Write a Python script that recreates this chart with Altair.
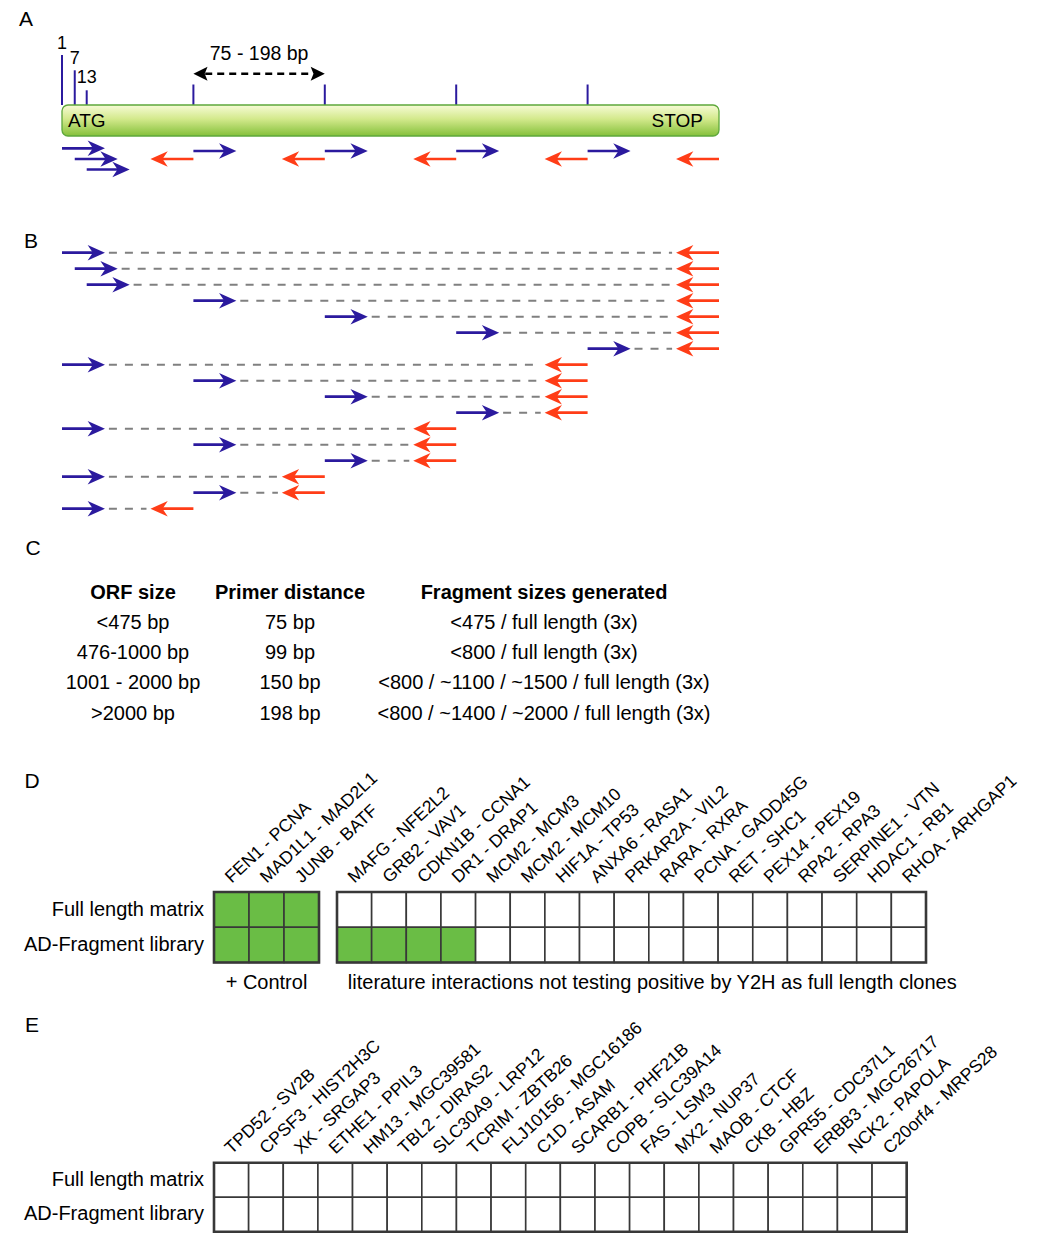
import altair as alt
import pandas as pd

# ======================= DATA =======================
# Panels A/B: positions along the ORF in units of one primer distance (ATG = 0, STOP = 5)
ORF_START, ORF_END = 0, 5
site_pos = [0, 0.097, 0.188, 1, 2, 3, 4]
site_label = ["1", "7", "13"]
site_lane = ["top1", "top7", "top13", "tick", "tick", "tick", "tick"]
label_lane = ["lab1", "lab7", "lab13"]
fwd_a_start = [0, 0.097, 0.188, 1, 2, 3, 4]
fwd_a_lane = ["row1", "row2", "row3", "fwd", "fwd", "fwd", "fwd"]
rev_a_end = [1, 2, 3, 4, 5]
rev_a_lane = ["row2", "row2", "row2", "row2", "row2"]
dim_from, dim_to, dim_text = 1, 2, "75 - 198 bp"
orf_text = ["ATG", "STOP"]

b_fwd_start = [0, 0.097, 0.188, 1, 2, 3, 4, 0, 1, 2, 3, 0, 1, 2, 0, 1, 0]
b_rev_end = [5, 5, 5, 5, 5, 5, 5, 4, 4, 4, 4, 3, 3, 3, 2, 2, 1]

# Panel C table
c_headers = ["ORF size", "Primer distance", "Fragment sizes generated"]
c_orf = ["<475 bp", "476-1000 bp", "1001 - 2000 bp", ">2000 bp"]
c_primer = ["75 bp", "99 bp", "150 bp", "198 bp"]
c_frag = ["<475 / full length (3x)", "<800 / full length (3x)",
          "<800 / ~1100 / ~1500 / full length (3x)",
          "<800 / ~1400 / ~2000 / full length (3x)"]

# Panel D/E grids
row_names = ["Full length matrix", "AD-Fragment library"]
d_control = ["FEN1 - PCNA", "MAD1L1 - MAD2L1", "JUNB - BATF"]
d_lit = ["MAFG - NFE2L2", "GRB2 - VAV1", "CDKN1B - CCNA1", "DR1 - DRAP1",
         "MCM2 - MCM3", "MCM2 - MCM10", "HIF1A - TP53", "ANXA6 - RASA1",
         "PRKAR2A - VIL2", "RARA - RXRA", "PCNA - GADD45G", "RET - SHC1",
         "PEX14 - PEX19", "RPA2 - RPA3", "SERPINE1 - VTN", "HDAC1 - RB1",
         "RHOA - ARHGAP1"]
d_full = [1, 1, 1, 0, 0, 0, 0, 0, 0, 0, 0, 0, 0, 0, 0, 0, 0, 0, 0, 0]
d_frag = [1, 1, 1, 1, 1, 1, 1, 0, 0, 0, 0, 0, 0, 0, 0, 0, 0, 0, 0, 0]
d_captions = ["+ Control", "literature interactions not testing positive by Y2H as full length clones"]

e_pairs = ["TPD52 - SV2B", "CPSF3 - HIST2H3C", "XK - SRGAP3", "ETHE1 - PPIL3",
           "HM13 - MGC39581", "TBL2 - DIRAS2", "SLC30A9 - LRP12", "TCRIM - ZBTB26",
           "FLJ10156 - MGC16186", "C1D - ASAM", "SCARB1 - PHF21B", "COPB - SLC39A14",
           "FAS - LSM3", "MX2 - NUP37", "MAOB - CTCF", "CKB - HBZ",
           "GPR55 - CDC37L1", "ERBB3 - MGC26717", "NCK2 - PAPOLA", "C20orf4 - MRPS28"]
e_full = [0, 0, 0, 0, 0, 0, 0, 0, 0, 0, 0, 0, 0, 0, 0, 0, 0, 0, 0, 0]
e_frag = [0, 0, 0, 0, 0, 0, 0, 0, 0, 0, 0, 0, 0, 0, 0, 0, 0, 0, 0, 0]

panel_letters = ["A", "B", "C", "D", "E"]

# ======================= STYLE / LAYOUT =======================
BLUE = "#2b1a9e"
RED = "#ff3d17"
GRAY = "#808080"
GREEN = "#6abd45"
EDGE = "#383838"
BLACK = "#000000"
FONT = "Liberation Sans"

W = 1034
H_A, H_B, H_C, H_D, H_E = 202, 315, 220, 255, 232

ARROW_LEN = 0.327
SHAFT_INSET = 0.05
HEAD_SIZE = 300
HEAD_R = "M0,0 L-2,-0.9 L-1.4,0 L-2,0.9 Z"
HEAD_L = "M0,0 L2,-0.9 L1.4,0 L2,0.9 Z"
DIM_R = "M0,0 L-2,-1 L-1.6,0 L-2,1 Z"
DIM_L = "M0,0 L2,-1 L1.6,0 L2,1 Z"

orf_x = alt.Scale(domain=[ORF_START, ORF_END], range=[54, 711], nice=False, zero=False)

A_LANES = {"lab1": 35.3, "dimlab": 45.3, "top1": 46.0, "lab7": 50.3, "top7": 61.3,
           "dim": 64.7, "lab13": 68.7, "tick": 75.5, "top13": 81.3, "bartop": 96.0,
           "bartext": 112.0, "barbot": 127.0, "row1": 139.3, "fwd": 142.0,
           "row2": 150.0, "row3": 160.5}
lane_idx = {n: i for i, n in enumerate(A_LANES)}
a_y = alt.Scale(domain=list(range(len(A_LANES))), range=list(A_LANES.values()),
                nice=False, zero=False)


def X(scale, field="x"):
    return alt.X(f"{field}:Q", scale=scale, axis=None)


def Y(scale, field="y"):
    return alt.Y(f"{field}:Q", scale=scale, axis=None)


def arrow_frames(tails, ys, direction, color):
    s, h = [], []
    for t, y in zip(tails, ys):
        tip = t + direction * ARROW_LEN
        s.append(dict(x=t, x2=tip - direction * SHAFT_INSET, y=y, c=color))
        h.append(dict(x=tip, y=y, c=color, shape=HEAD_R if direction > 0 else HEAD_L))
    return pd.DataFrame(s), pd.DataFrame(h)


def shafts(df, xs, ys, width=2.7):
    return alt.Chart(df).mark_rule(strokeWidth=width).encode(
        x=X(xs), x2="x2:Q", y=Y(ys), color=alt.Color("c:N", scale=None))


def heads(df, xs, ys, size=HEAD_SIZE):
    return alt.Chart(df).mark_point(filled=True, opacity=1, size=size, strokeWidth=0).encode(
        x=X(xs), y=Y(ys), color=alt.Color("c:N", scale=None),
        shape=alt.Shape("shape:N", scale=None))


def letter(ch, x, y):
    return alt.Chart(pd.DataFrame({"t": [ch]})).mark_text(
        fontSize=21, font=FONT, align="center", baseline="middle", color=BLACK
    ).encode(x=alt.value(x), y=alt.value(y), text="t:N")


# ======================= PANEL A =======================
sites = pd.DataFrame({"x": site_pos, "y": [lane_idx[l] for l in site_lane],
                      "y2": [lane_idx["bartop"]] * len(site_pos)})
site_rules = alt.Chart(sites).mark_rule(color=BLUE, strokeWidth=2).encode(
    x=X(orf_x), y=Y(a_y), y2="y2:Q")
site_text = alt.Chart(pd.DataFrame({"x": site_pos[:3], "y": [lane_idx[l] for l in label_lane],
                                    "t": site_label})).mark_text(
    fontSize=18, font=FONT, align="center", baseline="middle", color=BLACK
).encode(x=X(orf_x), y=Y(a_y), text="t:N")

dim_line = alt.Chart(pd.DataFrame({"x": [dim_from + 0.09], "x2": [dim_to - 0.09],
                                   "y": [lane_idx["dim"]]})).mark_rule(
    color=BLACK, strokeWidth=2.5, strokeDash=[7, 5]).encode(x=X(orf_x), x2="x2:Q", y=Y(a_y))
dim_heads = heads(pd.DataFrame({"x": [dim_from, dim_to], "y": [lane_idx["dim"]] * 2,
                                "c": [BLACK, BLACK], "shape": [DIM_L, DIM_R]}), orf_x, a_y, size=200)
dim_label = alt.Chart(pd.DataFrame({"x": [(dim_from + dim_to) / 2], "y": [lane_idx["dimlab"]],
                                    "t": [dim_text]})).mark_text(
    fontSize=19.5, font=FONT, align="center", baseline="middle", color=BLACK
).encode(x=X(orf_x), y=Y(a_y), text="t:N")

bar = alt.Chart(pd.DataFrame({"x": [ORF_START], "x2": [ORF_END], "y": [lane_idx["bartop"]],
                              "y2": [lane_idx["barbot"]]})).mark_rect(
    fill={"gradient": "linear", "x1": 0, "y1": 0, "x2": 0, "y2": 1,
          "stops": [{"offset": 0, "color": "#f7fbd6"},
                    {"offset": 0.45, "color": "#d3e98c"},
                    {"offset": 1, "color": "#84c03a"}]},
    cornerRadius=6, stroke="#5ea83b", strokeWidth=1.3
).encode(x=X(orf_x), x2="x2:Q", y=Y(a_y), y2="y2:Q")
atg = alt.Chart(pd.DataFrame({"x": [ORF_START], "y": [lane_idx["bartext"]], "t": [orf_text[0]]})).mark_text(
    fontSize=19, font=FONT, align="left", baseline="middle", dx=6, color=BLACK
).encode(x=X(orf_x), y=Y(a_y), text="t:N")
stop = alt.Chart(pd.DataFrame({"x": [ORF_END], "y": [lane_idx["bartext"]], "t": [orf_text[1]]})).mark_text(
    fontSize=19, font=FONT, align="right", baseline="middle", dx=-16, color=BLACK
).encode(x=X(orf_x), y=Y(a_y), text="t:N")

fa_s, fa_h = arrow_frames(fwd_a_start, [lane_idx[l] for l in fwd_a_lane], 1, BLUE)
ra_s, ra_h = arrow_frames(rev_a_end, [lane_idx[l] for l in rev_a_lane], -1, RED)

panel_a = alt.layer(
    letter(panel_letters[0], 18, 10.5), site_rules, site_text, dim_line, dim_heads, dim_label,
    bar, atg, stop,
    shafts(fa_s, orf_x, a_y), heads(fa_h, orf_x, a_y),
    shafts(ra_s, orf_x, a_y), heads(ra_h, orf_x, a_y),
).properties(width=W, height=H_A)

# ======================= PANEL B =======================
b_rows = list(range(len(b_fwd_start)))
b_y = alt.Scale(domain=[0, 16], range=[41.7, 297.7], nice=False, zero=False)
dash = pd.DataFrame({"x": [s + ARROW_LEN + 0.03 for s in b_fwd_start],
                     "x2": [e - ARROW_LEN - 0.03 for e in b_rev_end], "y": b_rows})
dash_layer = alt.Chart(dash).mark_rule(color=GRAY, strokeWidth=2, strokeDash=[8, 8]).encode(
    x=X(orf_x), x2="x2:Q", y=Y(b_y))
fb_s, fb_h = arrow_frames(b_fwd_start, b_rows, 1, BLUE)
rb_s, rb_h = arrow_frames(b_rev_end, b_rows, -1, RED)

panel_b = alt.layer(
    letter(panel_letters[1], 23, 31), dash_layer,
    shafts(fb_s, orf_x, b_y), heads(fb_h, orf_x, b_y),
    shafts(rb_s, orf_x, b_y), heads(rb_h, orf_x, b_y),
).properties(width=W, height=H_B)

# ======================= PANEL C =======================
c_x = alt.Scale(domain=[0, 1, 2], range=[125, 282, 536], nice=False, zero=False)
c_y = alt.Scale(domain=[0, 4], range=[66.7, 187.7], nice=False, zero=False)
head_df = pd.DataFrame({"col": [0, 1, 2], "row": [0, 0, 0], "t": c_headers})
body = []
for r in range(4):
    for col, vals in enumerate([c_orf, c_primer, c_frag]):
        body.append({"col": col, "row": r + 1, "t": vals[r]})
body_df = pd.DataFrame(body)
c_head = alt.Chart(head_df).mark_text(fontSize=20, font=FONT, fontWeight="bold", align="center",
                                      baseline="middle", color=BLACK).encode(
    x=X(c_x, "col"), y=Y(c_y, "row"), text="t:N")
c_body = alt.Chart(body_df).mark_text(fontSize=20, font=FONT, align="center",
                                      baseline="middle", color=BLACK).encode(
    x=X(c_x, "col"), y=Y(c_y, "row"), text="t:N")
panel_c = alt.layer(letter(panel_letters[2], 25, 23.3), c_head, c_body).properties(width=W, height=H_C)


# ======================= PANELS D / E =======================
def grid_panel(pairs, slots, full, frag, xs, ys, blocks, let, let_y, height, captions=None):
    cells = []
    for p, s, a, b in zip(pairs, slots, full, frag):
        for r, v in enumerate([a, b]):
            cells.append({"x": s, "x2": s + 1, "y": r, "y2": r + 1,
                          "f": GREEN if v else "#ffffff"})
    cells = pd.DataFrame(cells)
    cell_layer = alt.Chart(cells).mark_rect(stroke=EDGE, strokeWidth=1.6).encode(
        x=X(xs), x2="x2:Q", y=Y(ys), y2="y2:Q", color=alt.Color("f:N", scale=None))
    border = alt.Chart(pd.DataFrame({"x": [b[0] for b in blocks], "x2": [b[1] for b in blocks],
                                     "y": [0] * len(blocks), "y2": [2] * len(blocks)})).mark_rect(
        fillOpacity=0, stroke=EDGE, strokeWidth=2.6).encode(
        x=X(xs), x2="x2:Q", y=Y(ys), y2="y2:Q")
    col_lab = alt.Chart(pd.DataFrame({"x": [s + 0.41 for s in slots],
                                      "y": [-0.34] * len(slots), "t": pairs})).mark_text(
        fontSize=17.6, font=FONT, align="left", baseline="middle", angle=317, color=BLACK).encode(
        x=X(xs), y=Y(ys), text="t:N")
    row_lab = alt.Chart(pd.DataFrame({"x": [slots[0]] * 2, "y": [0.5, 1.5], "t": row_names})).mark_text(
        fontSize=20, font=FONT, align="right", baseline="middle", dx=-10, color=BLACK).encode(
        x=X(xs), y=Y(ys), text="t:N")
    layers = [letter(let, 24, let_y), cell_layer, border, col_lab, row_lab]
    if captions is not None:
        cap = alt.Chart(pd.DataFrame({"x": captions[0], "y": captions[1], "t": captions[2]})).mark_text(
            fontSize=20, font=FONT, align="center", baseline="middle", color=BLACK).encode(
            x=X(xs), y=Y(ys), text="t:N")
        layers.append(cap)
    return alt.layer(*layers).properties(width=W, height=height)


d_pairs = d_control + d_lit
d_slots = [0, 1, 2] + [3.5 + i for i in range(len(d_lit))]   # half-cell gap between blocks
d_x = alt.Scale(domain=[0, 3, 3.5, 20.5], range=[206, 311, 329, 918], nice=False, zero=False)
d_y = alt.Scale(domain=[0, 2], range=[146, 216.5], nice=False, zero=False)
panel_d = grid_panel(d_pairs, d_slots, d_full, d_frag, d_x, d_y, [(0, 3), (3.5, 20.5)],
                     panel_letters[3], 35.7, H_D,
                     captions=([1.5, 12.6], [2.57, 2.57], d_captions))

e_slots = list(range(len(e_pairs)))
e_x = alt.Scale(domain=[0, 20], range=[206, 898.7], nice=False, zero=False)
e_y = alt.Scale(domain=[0, 2], range=[161.7, 230.7], nice=False, zero=False)
panel_e = grid_panel(e_pairs, e_slots, e_full, e_frag, e_x, e_y, [(0, 20)],
                     panel_letters[4], 25, H_E)

chart = alt.vconcat(panel_a, panel_b, panel_c, panel_d, panel_e,
                    spacing=0, bounds="flush", padding=0).configure_view(stroke=None)

chart.save("out.html", embed_options={"renderer": "svg", "actions": False})
